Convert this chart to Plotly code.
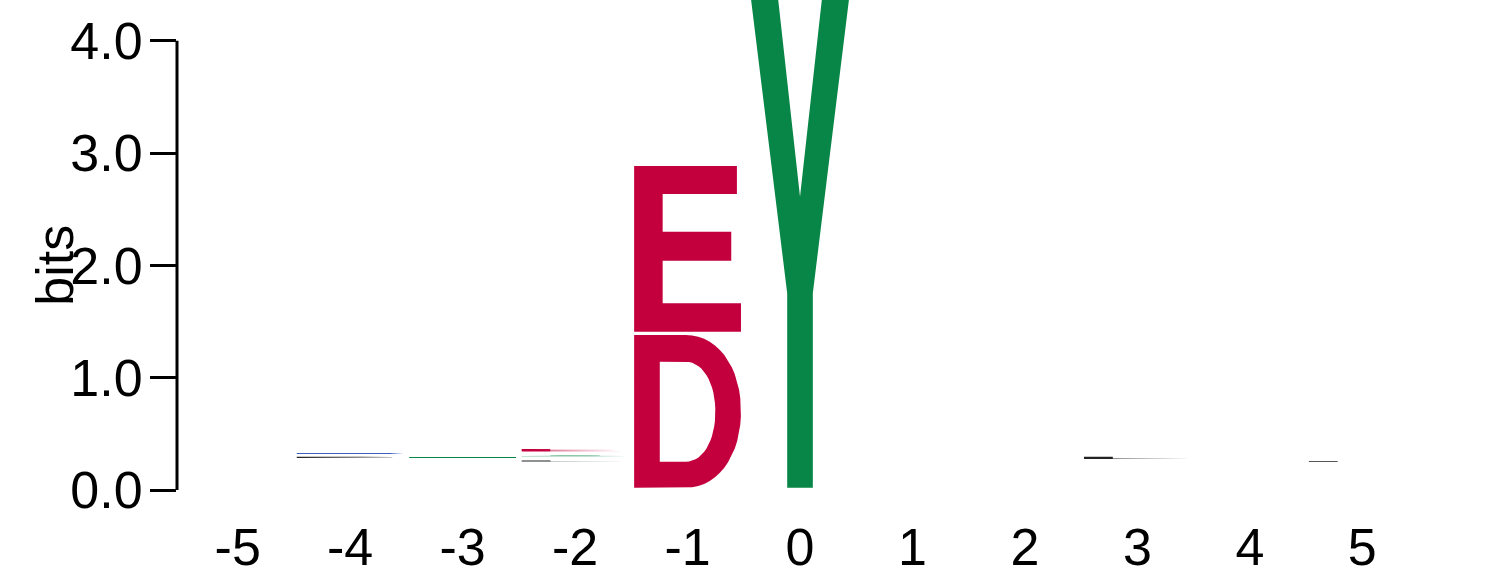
import numpy as np
import plotly.graph_objects as go

# sequence logo data: one entry per stacked letter
positions = [-5, -4, -3, -2, -1, 0, 1, 2, 3, 4, 5]
letter_pos = [-4, -4, -3, -2, -2, -2, -1, -1, 0, 1, 3, 5]
letters = ["P", "R", "G", "L", "S", "E", "D", "E", "Y", "L", "L", "L"]
bottoms = [0.285, 0.320, 0.285, 0.254, 0.300, 0.342, 0.02, 1.41, 0.02, 0.265, 0.276, 0.251]
heights = [0.010, 0.010, 0.008, 0.009, 0.010, 0.024, 1.36, 1.475, 4.67, 0.006, 0.020, 0.008]

RED = "#C3003D"
GREEN = "#088647"
BLUE = "#3B5FC0"
BLACK = "#222222"
colors = {"D": RED, "E": RED, "Y": GREEN, "G": GREEN, "S": GREEN,
          "R": BLUE, "P": BLACK, "L": BLACK}

LETTER_W = 0.95
FONT = "Liberation Sans, Arial, sans-serif"


def sarc(cx, cy, rx, ry, a0, a1, n=30, p=2.5):
    t = np.radians(np.linspace(a0, a1, n))
    c, s = np.cos(t), np.sin(t)
    return list(zip(cx + rx * np.sign(c) * np.abs(c) ** (2 / p),
                    cy + ry * np.sign(s) * np.abs(s) ** (2 / p)))


# glyph outlines in a unit box; holes are wound the other way
GLYPHS = {
    "D": [[(0, 0), (0.48, 0)] + sarc(0.48, 0.5, 0.52, 0.5, -90, 90, p=2.1) + [(0, 1)],
          ([(0.24, 0.17), (0.48, 0.17)] + sarc(0.48, 0.4975, 0.28, 0.3275, -90, 90, p=2.1)
           + [(0.24, 0.825)])[::-1]],
    "E": [[(0, 0), (1, 0), (1, 0.171), (0.267, 0.171), (0.267, 0.428), (0.909, 0.428),
           (0.909, 0.603), (0.267, 0.603), (0.267, 0.831), (0.962, 0.831), (0.962, 1), (0, 1)]],
    "Y": [[(0.38, 0), (0.62, 0), (0.62, 0.371), (1, 1), (0.742, 1), (0.5, 0.555),
           (0.258, 1), (0, 1), (0.38, 0.371)]],
    "L": [[(0, 0), (1, 0), (1, 0.17), (0.27, 0.17), (0.27, 1), (0, 1)]],
    "P": [[(0, 0), (0.27, 0), (0.27, 0.42), (0.6, 0.42)] + sarc(0.6, 0.71, 0.3, 0.29, -90, 90) + [(0, 1)],
          ([(0.27, 0.58), (0.58, 0.58)] + sarc(0.58, 0.71, 0.14, 0.13, -90, 90) + [(0.27, 0.84)])[::-1]],
    "R": [[(0, 0), (0.27, 0), (0.27, 0.42), (0.5, 0.42), (0.72, 0), (1, 0), (0.76, 0.46)]
          + sarc(0.6, 0.73, 0.3, 0.27, -60, 90) + [(0, 1)],
          ([(0.27, 0.58), (0.58, 0.58)] + sarc(0.58, 0.71, 0.14, 0.13, -90, 90) + [(0.27, 0.84)])[::-1]],
    "S": [[(0, 0), (1, 0), (1, 0.58), (0.27, 0.58), (0.27, 0.83), (1, 0.83), (1, 1), (0, 1),
           (0, 0.42), (0.73, 0.42), (0.73, 0.17), (0, 0.17)]],
    "G": [[(0, 0), (1, 0), (1, 0.5), (0.55, 0.5), (0.55, 0.35), (0.73, 0.35), (0.73, 0.17),
           (0.27, 0.17), (0.27, 0.83), (1, 0.83), (1, 1), (0, 1)]],
}

fig = go.Figure()
for pos, let, b, h in zip(letter_pos, letters, bottoms, heights):
    xs, ys = [], []
    for contour in GLYPHS[let]:
        pts = contour + [contour[0]]
        xs += [pos - LETTER_W / 2 + LETTER_W * u for u, v in pts] + [None]
        ys += [b + h * v for u, v in pts] + [None]
    fig.add_trace(go.Scatter(x=xs, y=ys, mode="lines", fill="toself",
                             fillcolor=colors[let], line=dict(width=0),
                             hoverinfo="skip", showlegend=False))

fig.update_layout(
    width=1486, height=583,
    margin=dict(l=177, r=0, t=0, b=93),
    paper_bgcolor="white", plot_bgcolor="white",
    font=dict(family=FONT, size=52, color="black"),
    xaxis=dict(range=[-5.54, 6.1], tickvals=positions, ticktext=[str(p) for p in positions],
               showline=False, showgrid=False, zeroline=False, ticks="",
               ticklabelstandoff=22, fixedrange=True),
    yaxis=dict(range=[0, 4.363], tickvals=[0, 1, 2, 3, 4],
               ticktext=["0.0", "1.0", "2.0", "3.0", "4.0"],
               showline=False, showgrid=False, zeroline=False,
               ticks="outside", ticklen=26, tickwidth=3, tickcolor="black",
               ticklabelstandoff=-3, fixedrange=True),
    shapes=[dict(type="line", xref="paper", yref="y", x0=0, x1=0, y0=0, y1=4,
                 line=dict(color="black", width=3))],
    annotations=[dict(text="bits", textangle=-90, xref="paper", yref="y",
                      x=-0.093, y=2.0, showarrow=False, xanchor="center", yanchor="middle",
                      font=dict(size=52))],
)

fig.write_html("out.html", config={"displayModeBar": False},
               post_script="document.body.style.margin='0';")
